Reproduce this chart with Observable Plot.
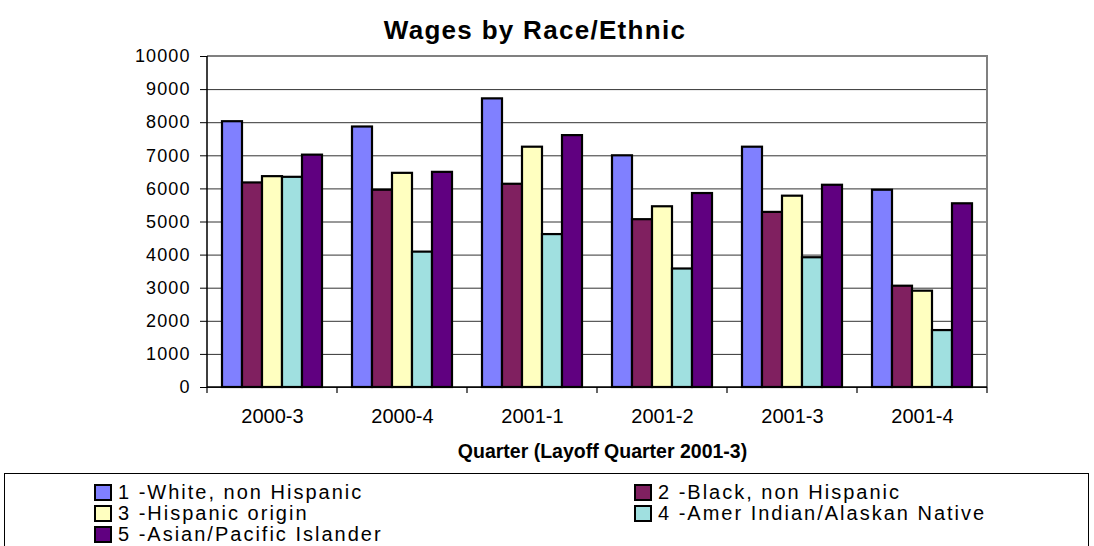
<!DOCTYPE html>
<html>
<head>
<meta charset="utf-8">
<script src="https://cdn.jsdelivr.net/npm/d3@7"></script>
<script src="https://cdn.jsdelivr.net/npm/@observablehq/plot@0.6"></script>
<style>
  body { margin: 0; background: #fff; }
  #wrap { position: relative; width: 1094px; height: 546px; overflow: hidden; font-family: "Liberation Sans", Arial, sans-serif; color: #000; }
  #title { position: absolute; left: 0; top: 17px; width: 1070px; text-align: center; font-weight: bold; font-size: 26px; line-height: 26px; letter-spacing: 1.3px; }
  #chart { position: absolute; left: 0; top: 0; }
  #legendBox { position: absolute; left: 4px; top: 473px; width: 1085px; height: 100px; border: 1px solid #000; box-sizing: border-box; }
  .lg-item { position: absolute; height: 21px; white-space: nowrap; }
  .lg-sw { position: absolute; left: 0; top: 2px; width: 18px; height: 17px; border: 2px solid #000; box-sizing: border-box; }
  .lg-tx { position: absolute; left: 24px; top: 0; font-size: 20px; line-height: 21px; letter-spacing: 2px; }
  g[aria-label="y-axis tick label"] text { letter-spacing: 1.1px; }
  g[aria-label="x-label"] text { letter-spacing: 0.5px; }
</style>
</head>
<body>
<div id="wrap">
  <div id="chart"></div>
  <div id="title">Wages by Race/Ethnic</div>
  <div id="legendBox"></div>
</div>
<script>
// ---- data ----
const quarters = ["2000-3", "2000-4", "2001-1", "2001-2", "2001-3", "2001-4"];
const races = [
  "1 -White, non Hispanic",
  "2 -Black, non Hispanic",
  "3 -Hispanic origin",
  "4 -Amer Indian/Alaskan Native",
  "5 -Asian/Pacific Islander"
];
const whiteNonHispanic = [8030, 7870, 8720, 7000, 7260, 5960];
const blackNonHispanic = [6180, 5960, 6140, 5070, 5290, 3060];
const hispanicOrigin   = [6370, 6470, 7260, 5460, 5780, 2910];
const amerIndianAlaskan = [6350, 4090, 4620, 3580, 3920, 1720];
const asianPacific     = [7020, 6500, 7610, 5860, 6110, 5550];
const yTicks = [0, 1000, 2000, 3000, 4000, 5000, 6000, 7000, 8000, 9000, 10000];
const colors = ["#8080FF", "#802060", "#FFFFC0", "#A0E0E0", "#600080"];
const xLabel = "Quarter (Layoff Quarter 2001-3)";

const series = [whiteNonHispanic, blackNonHispanic, hispanicOrigin, amerIndianAlaskan, asianPacific];
const rows = [];
quarters.forEach((q, qi) => races.forEach((r, ri) => rows.push({quarter: q, race: r, value: series[ri][qi]})));

// decoration: plot-area border, axis lines and group boundary ticks (derived from plot dimensions)
function frameDecor(index, scales, values, dims) {
  const {width, height, marginLeft, marginRight, marginTop, marginBottom} = dims;
  const x0 = marginLeft, x1 = width - marginRight, y0 = marginTop, y1 = height - marginBottom;
  const g = d3.create("svg:g").attr("fill", "none");
  g.append("path").attr("d", `M${x0},${y0}H${x1}V${y1}`).attr("stroke", "#808080").attr("stroke-width", 2);
  g.append("path").attr("d", `M${x0},${y0}V${y1}H${x1}`).attr("stroke", "#000").attr("stroke-width", 1.5);
  const n = quarters.length;
  for (let i = 0; i <= n; i++) {
    const x = x0 + (x1 - x0) * i / n;
    g.append("line").attr("x1", x).attr("x2", x).attr("y1", y1).attr("y2", y1 + 6)
      .attr("stroke", "#000").attr("stroke-width", 1.2);
  }
  return g.node();
}

const chart = Plot.plot({
  width: 1094,
  height: 470,
  marginLeft: 206,
  marginRight: 107,
  marginTop: 56,
  marginBottom: 83,
  style: {fontFamily: "'Liberation Sans', Arial, sans-serif", color: "#000", background: "transparent", overflow: "visible"},
  fx: {domain: quarters, padding: 0},
  x: {domain: races, paddingInner: 0, paddingOuter: 0.75, axis: null},
  y: {domain: [0, 10000]},
  color: {domain: races, range: colors},
  marks: [
    Plot.gridY(yTicks, {stroke: "#333", strokeOpacity: 1, strokeWidth: 1}),
    Plot.barY(rows, {fx: "quarter", x: "race", y: "value", fill: "race", stroke: "#000", strokeWidth: 2.2}),
    Plot.frame({facet: "super", render: frameDecor}),
    Plot.axisY(yTicks, {tickSize: 7, tickPadding: 10, fontSize: 18, tickFormat: d => String(d), label: null, stroke: "#000"}),
    Plot.axisFx({anchor: "bottom", tickSize: 0, tickPadding: 21, fontSize: 20, label: null}),
    Plot.text([xLabel], {facet: "super", frameAnchor: "bottom", dy: 70, dx: 5, lineAnchor: "bottom", fontWeight: "bold", fontSize: 19.5, fill: "#000", ariaLabel: "x-label"})
  ]
});
document.getElementById("chart").appendChild(chart);

// ---- legend ----
const box = document.getElementById("wrap");
races.forEach((r, i) => {
  const col = i % 2, row = Math.floor(i / 2);
  const item = document.createElement("div");
  item.className = "lg-item";
  item.style.left = (col ? 634 : 94) + "px";
  item.style.top = (481.5 + row * 21) + "px";
  const sw = document.createElement("span");
  sw.className = "lg-sw";
  sw.style.background = colors[i];
  const tx = document.createElement("span");
  tx.className = "lg-tx";
  tx.textContent = r;
  item.appendChild(sw);
  item.appendChild(tx);
  box.appendChild(item);
});
</script>
</body>
</html>
